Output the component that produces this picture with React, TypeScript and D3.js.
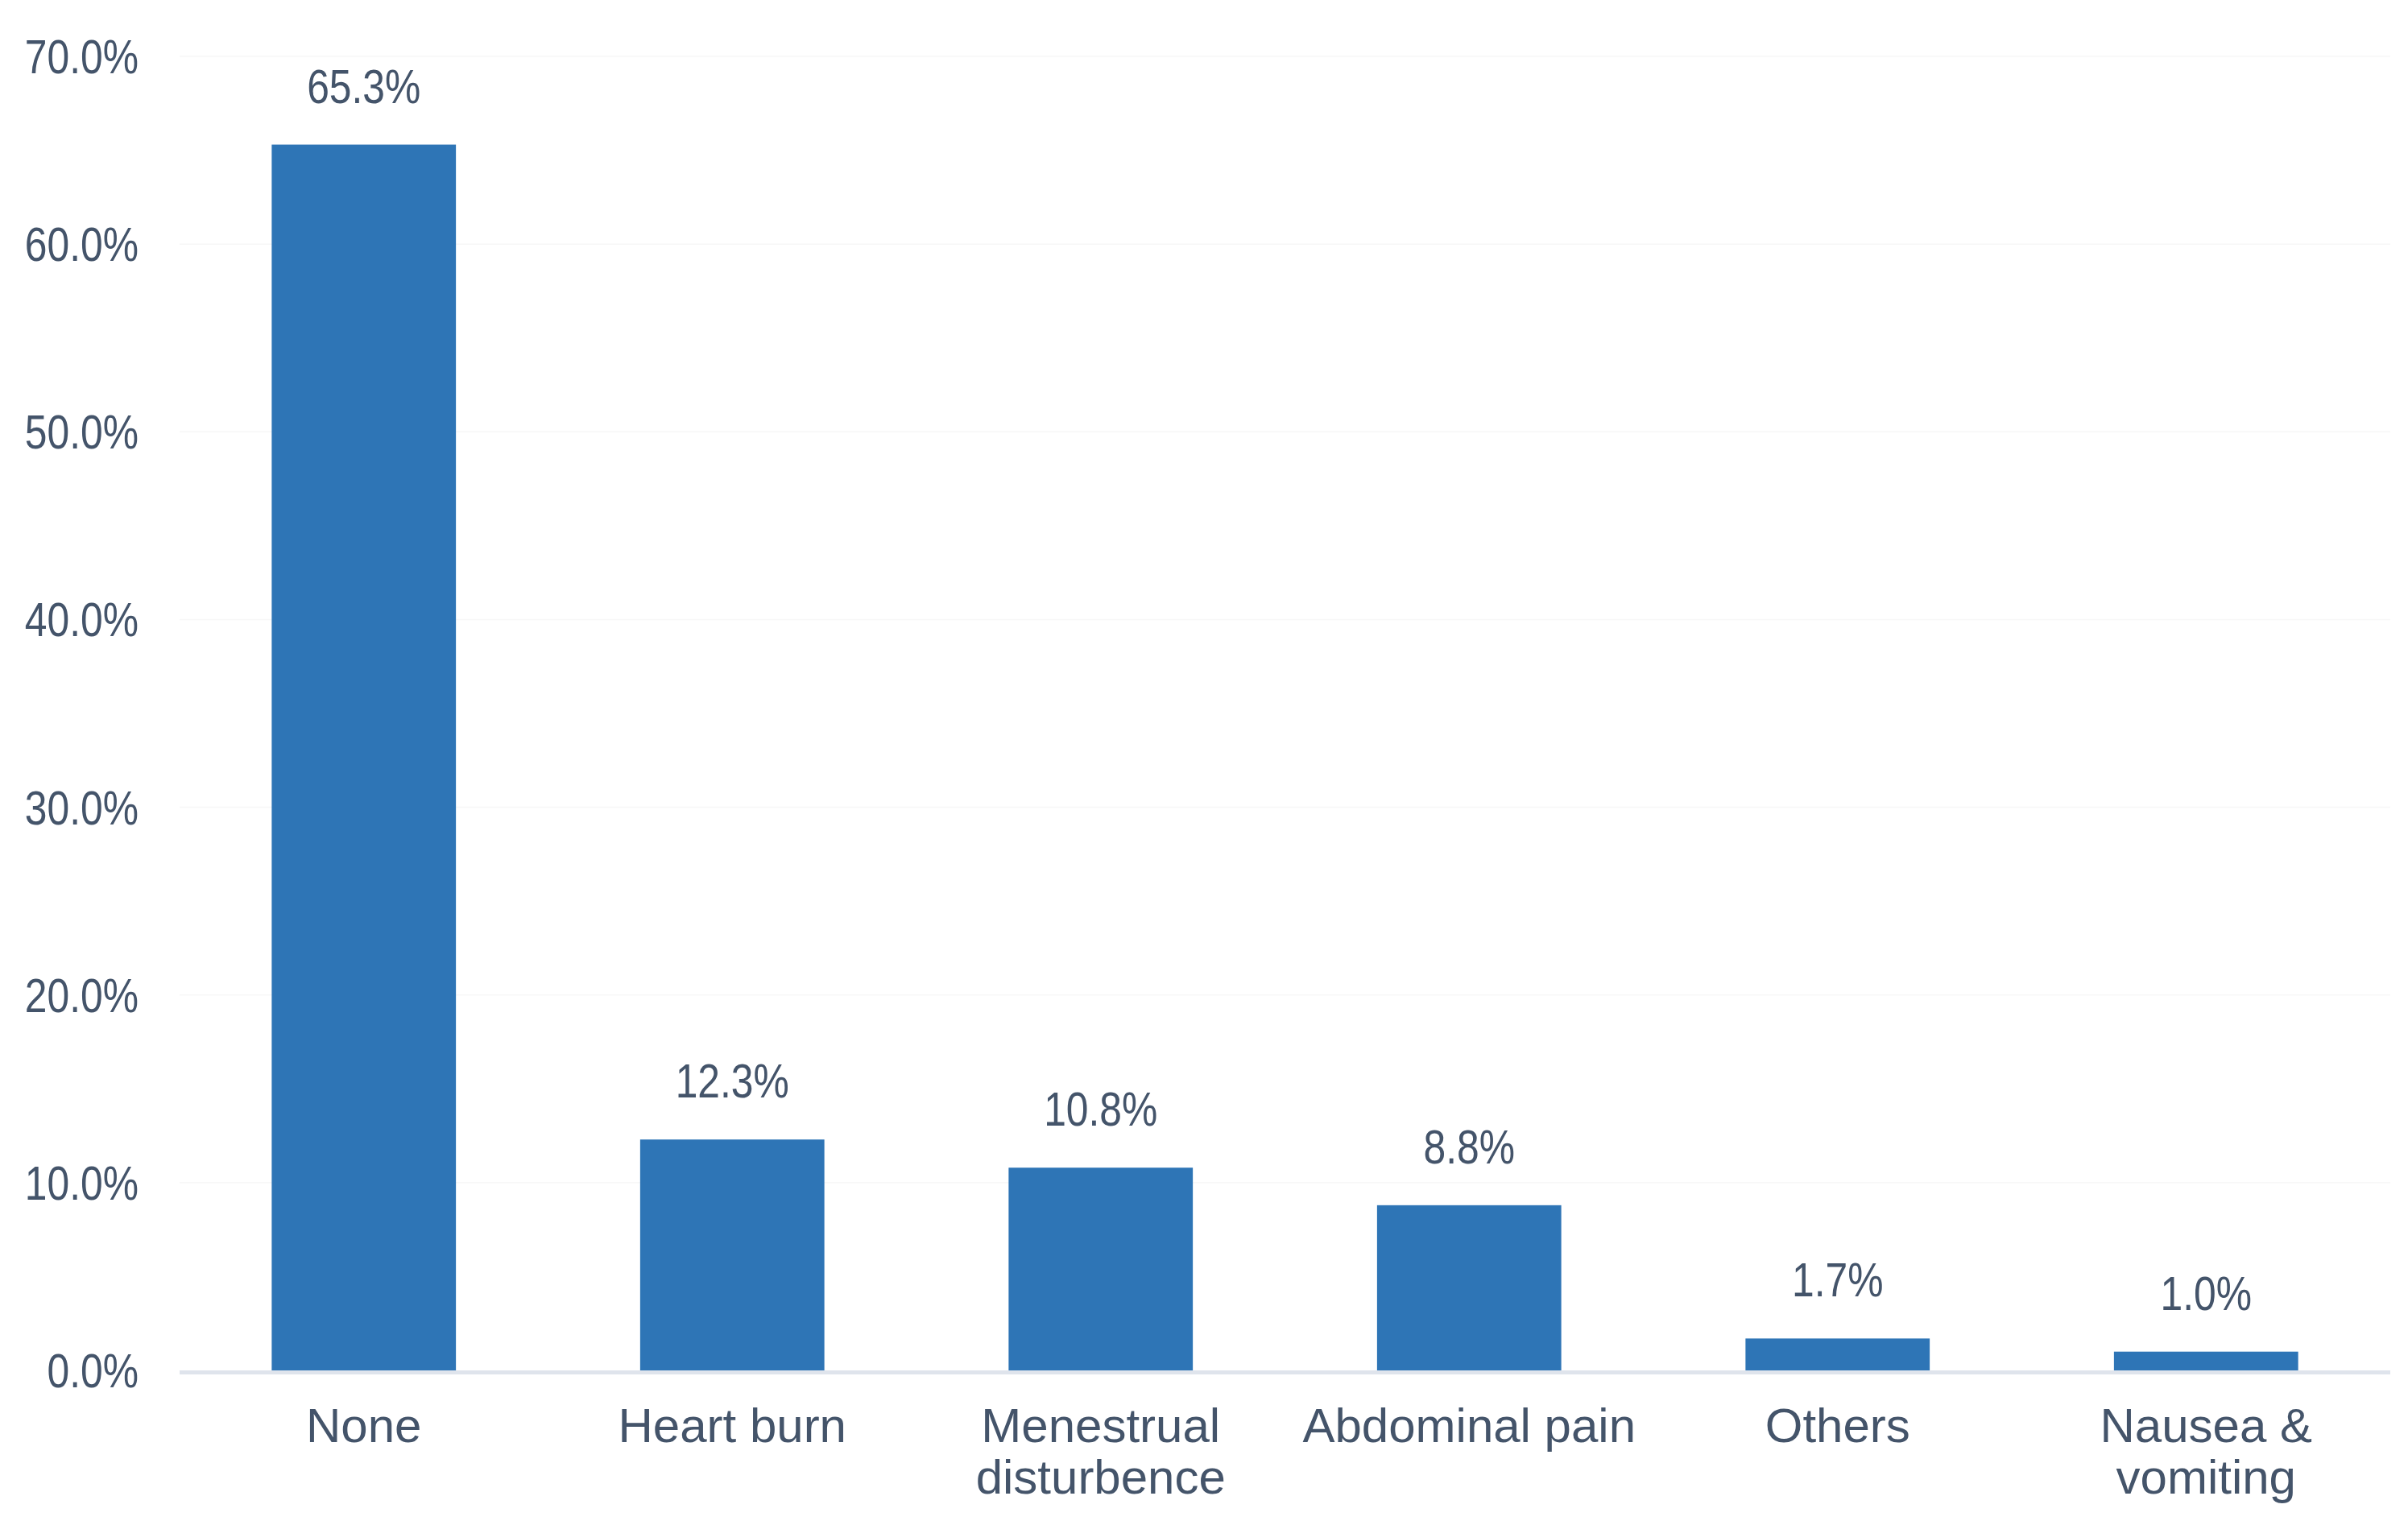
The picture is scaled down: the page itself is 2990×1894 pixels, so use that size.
import React, { useEffect, useRef } from 'react';
import * as d3 from 'd3';

const categories: string[][] = [
  ['None'],
  ['Heart burn'],
  ['Menestrual', 'disturbence'],
  ['Abdominal pain'],
  ['Others'],
  ['Nausea &', 'vomiting'],
];
const values = [65.3, 12.3, 10.8, 8.8, 1.7, 1.0];
const yTicks = [0, 10, 20, 30, 40, 50, 60, 70];

const WIDTH = 2990;
const HEIGHT = 1894;
const FONT = '"Liberation Sans", Arial, sans-serif';
const TEXT = '#44546a';
const BAR = '#2e75b6';
const NUM_SQUEEZE = 0.83; // number glyphs in the original are narrower

const App: React.FC = () => {
  const svgRef = useRef<SVGSVGElement>(null);

  useEffect(() => {
    if (!svgRef.current) return;
    const svg = d3.select(svgRef.current);
    svg.selectAll('*').remove();

    const x = d3.scaleBand<number>()
      .domain(d3.range(values.length))
      .range([223, 2968])
      .paddingInner(0.5)
      .paddingOuter(0.25);
    const y = d3.scaleLinear().domain([0, 70]).range([1702, 70]);
    const pct = (v: number) => d3.format('.1f')(v) + '%';

    // faint gridlines
    svg.append('g')
      .selectAll('line')
      .data(yTicks.filter(t => t > 0))
      .join('line')
      .attr('x1', 223)
      .attr('x2', 2968)
      .attr('y1', d => y(d))
      .attr('y2', d => y(d))
      .attr('stroke', '#f7f7f7')
      .attr('stroke-width', 1.5);

    // y tick labels
    svg.append('g')
      .selectAll('text')
      .data(yTicks)
      .join('text')
      .attr('transform', d => `translate(172,${y(d) + 21}) scale(${NUM_SQUEEZE},1)`)
      .attr('text-anchor', 'end')
      .attr('font-family', FONT)
      .attr('font-size', 60)
      .attr('fill', TEXT)
      .text(pct);

    // bars
    svg.append('g')
      .selectAll('rect')
      .data(values)
      .join('rect')
      .attr('x', (_, i) => x(i)!)
      .attr('width', x.bandwidth())
      .attr('y', d => y(d))
      .attr('height', d => y(0) - y(d))
      .attr('fill', BAR);

    // axis line
    svg.append('line')
      .attr('x1', 223)
      .attr('x2', 2968)
      .attr('y1', y(0) + 2.5)
      .attr('y2', y(0) + 2.5)
      .attr('stroke', '#dfe4ec')
      .attr('stroke-width', 5);

    // value labels
    svg.append('g')
      .selectAll('text')
      .data(values)
      .join('text')
      .attr('transform', (d, i) =>
        `translate(${x(i)! + x.bandwidth() / 2},${y(d) - 52}) scale(${NUM_SQUEEZE},1)`)
      .attr('text-anchor', 'middle')
      .attr('font-family', FONT)
      .attr('font-size', 60)
      .attr('fill', TEXT)
      .text(pct);

    // category labels
    const cat = svg.append('g')
      .selectAll('text')
      .data(categories)
      .join('text')
      .attr('text-anchor', 'middle')
      .attr('font-family', FONT)
      .attr('font-size', 60)
      .attr('fill', TEXT);
    cat.each(function (lines, i) {
      const cx = x(i)! + x.bandwidth() / 2;
      d3.select(this)
        .selectAll('tspan')
        .data(lines)
        .join('tspan')
        .attr('x', cx)
        .attr('y', (_, j) => y(0) + 89 + j * 64)
        .text(l => l);
    });
  }, []);

  return (
    <div style={{ position: 'fixed', left: 0, top: 0, width: WIDTH, height: HEIGHT, background: '#fff' }}>
      <svg ref={svgRef} width={WIDTH} height={HEIGHT} viewBox={`0 0 ${WIDTH} ${HEIGHT}`}></svg>
    </div>
  );
};

export default App;
